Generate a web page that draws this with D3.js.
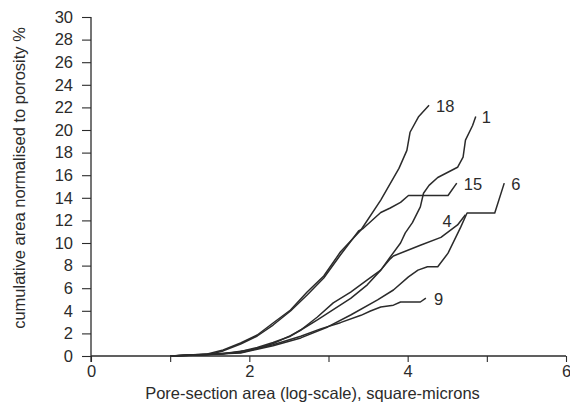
<!DOCTYPE html>
<html>
<head>
<meta charset="utf-8">
<script src="https://cdn.jsdelivr.net/npm/d3@7"></script>
<style>
  html, body { margin: 0; padding: 0; background: #fff; }
  svg { display: block; font-family: "Liberation Sans", Arial, Helvetica, sans-serif; }
</style>
</head>
<body>
<svg id="chart" width="570" height="405"></svg>
<script>
// Cumulative pore-area curves (x: log10 pore-section area, y: % of porosity)
const s18X = [1.0, 1.47, 1.67, 1.89, 2.10, 2.30, 2.52, 2.73, 2.94, 3.15, 3.41, 3.66, 3.89, 3.99, 4.03, 4.14, 4.27];
const s18Y = [0, 0.18, 0.53, 1.15, 1.86, 2.92, 4.07, 5.66, 7.08, 9.2, 11.15, 13.8, 16.6, 18.2, 19.8, 21.2, 22.2];

const s15X = [1.0, 1.47, 1.67, 1.89, 2.10, 2.30, 2.52, 2.73, 2.94, 3.15, 3.38, 3.44, 3.66, 3.78, 3.91, 4.01, 4.51, 4.62];
const s15Y = [0, 0.1, 0.45, 1.06, 1.77, 2.74, 3.98, 5.4, 6.9, 8.94, 11.06, 11.3, 12.7, 13.1, 13.6, 14.2, 14.2, 15.3];

const s1X = [1.0, 1.67, 1.89, 2.10, 2.30, 2.52, 2.65, 2.86, 3.06, 3.28, 3.49, 3.66, 3.78, 3.91, 3.97, 4.06, 4.16, 4.20, 4.27, 4.38, 4.63, 4.70, 4.73, 4.82, 4.86];
const s1Y = [0, 0.18, 0.4, 0.75, 1.2, 1.75, 2.3, 3.45, 4.7, 5.66, 6.73, 7.6, 8.76, 10.0, 10.9, 11.8, 13.2, 14.4, 15.1, 15.8, 16.7, 17.6, 19.1, 20.4, 21.2];

const s4X = [1.0, 1.89, 2.10, 2.30, 2.52, 2.65, 2.86, 3.06, 3.28, 3.49, 3.66, 3.78, 3.82, 4.16, 4.42, 4.63, 4.73];
const s4Y = [0, 0.3, 0.65, 1.1, 1.8, 2.3, 3.2, 4.1, 5.1, 6.3, 7.6, 8.6, 8.85, 9.8, 10.5, 11.6, 12.5];

const s6X = [1.0, 1.89, 2.30, 2.65, 2.99, 3.28, 3.62, 3.82, 4.01, 4.13, 4.25, 4.38, 4.51, 4.67, 4.75, 5.10, 5.22];
const s6Y = [0, 0.27, 0.9, 1.6, 2.57, 3.63, 4.96, 5.84, 7.0, 7.6, 7.9, 7.9, 9.1, 11.4, 12.65, 12.65, 15.3];

const s9X = [1.0, 1.63, 2.01, 2.30, 2.65, 2.90, 3.15, 3.41, 3.53, 3.66, 3.82, 3.91, 4.16, 4.23];
const s9Y = [0, 0.18, 0.53, 1.0, 1.75, 2.4, 2.95, 3.6, 3.98, 4.34, 4.5, 4.78, 4.78, 5.13];

const seriesNames = ["18", "1", "15", "6", "4", "9"];
const seriesX = [s18X, s1X, s15X, s6X, s4X, s9X];
const seriesY = [s18Y, s1Y, s15Y, s6Y, s4Y, s9Y];

const xTicks = [0, 1, 2, 3, 4, 5, 6];
const xTickLabels = ["0", "", "2", "", "4", "", "6"];
const yTicks = [0, 2, 4, 6, 8, 10, 12, 14, 16, 18, 20, 22, 24, 26, 28, 30];

const xTitle = "Pore-section area (log-scale), square-microns";
const yTitle = "cumulative area normalised to porosity %";

// Layout
const margin = { left: 91, right: 4, top: 17, bottom: 49 };
const W = 570, H = 405;
const ink = "#2b2b2b";

const svg = d3.select("#chart");
const x = d3.scaleLinear().domain([0, 6]).range([margin.left, W - margin.right]);
const y = d3.scaleLinear().domain([0, 30]).range([H - margin.bottom, margin.top]);

// X axis
const xAxis = d3.axisBottom(x)
  .tickValues(xTicks)
  .tickFormat((d, i) => xTickLabels[i])
  .tickSize(6)
  .tickPadding(3);
const gx = svg.append("g")
  .attr("transform", `translate(0,${y(0)})`)
  .call(xAxis);

// Y axis
const yAxis = d3.axisLeft(y)
  .tickValues(yTicks)
  .tickSize(9)
  .tickPadding(9);
const gy = svg.append("g")
  .attr("transform", `translate(${x(0)},0)`)
  .call(yAxis);

[gx, gy].forEach(g => {
  g.select(".domain").attr("stroke", ink).attr("stroke-width", 1.3);
  g.selectAll(".tick line").attr("stroke", ink).attr("stroke-width", 1.1);
  g.selectAll(".tick text")
    .attr("fill", ink)
    .style("font-size", "16.5px")
    .style("font-family", "'Liberation Sans', Arial, sans-serif");
});
gy.select(".domain").attr("d", `M0,${y(30)}V${y(0) + 6}`);
gx.select(".domain").attr("d", `M${x(0)},0H${x(6)}`);

// Axis titles
svg.append("text")
  .attr("x", (x(0) + x(6)) / 2 - 16)
  .attr("y", 399)
  .attr("text-anchor", "middle")
  .attr("fill", ink)
  .style("font-size", "16.5px")
  .text(xTitle);

svg.append("text")
  .attr("transform", `translate(25,${178}) rotate(-90)`)
  .attr("text-anchor", "middle")
  .attr("fill", ink)
  .style("font-size", "16.5px")
  .text(yTitle);

// Curves
const line = d3.line()
  .x(d => x(d[0]))
  .y(d => y(d[1]));

// Label offsets (px) from each curve's last point
const labelDx = [7, 6, 7, 7, -23, 8];
const labelDy = [7, 7, 7, 7, 12, 7];

seriesNames.forEach((name, i) => {
  const pts = seriesX[i].map((v, j) => [v, seriesY[i][j]]);
  svg.append("path")
    .datum(pts)
    .attr("fill", "none")
    .attr("stroke", ink)
    .attr("stroke-width", 1.5)
    .attr("stroke-linejoin", "round")
    .attr("d", line);

  const last = pts[pts.length - 1];
  svg.append("text")
    .attr("x", x(last[0]) + labelDx[i])
    .attr("y", y(last[1]) + labelDy[i])
    .attr("fill", ink)
    .style("font-size", "16.5px")
    .text(name);
});
</script>
</body>
</html>
